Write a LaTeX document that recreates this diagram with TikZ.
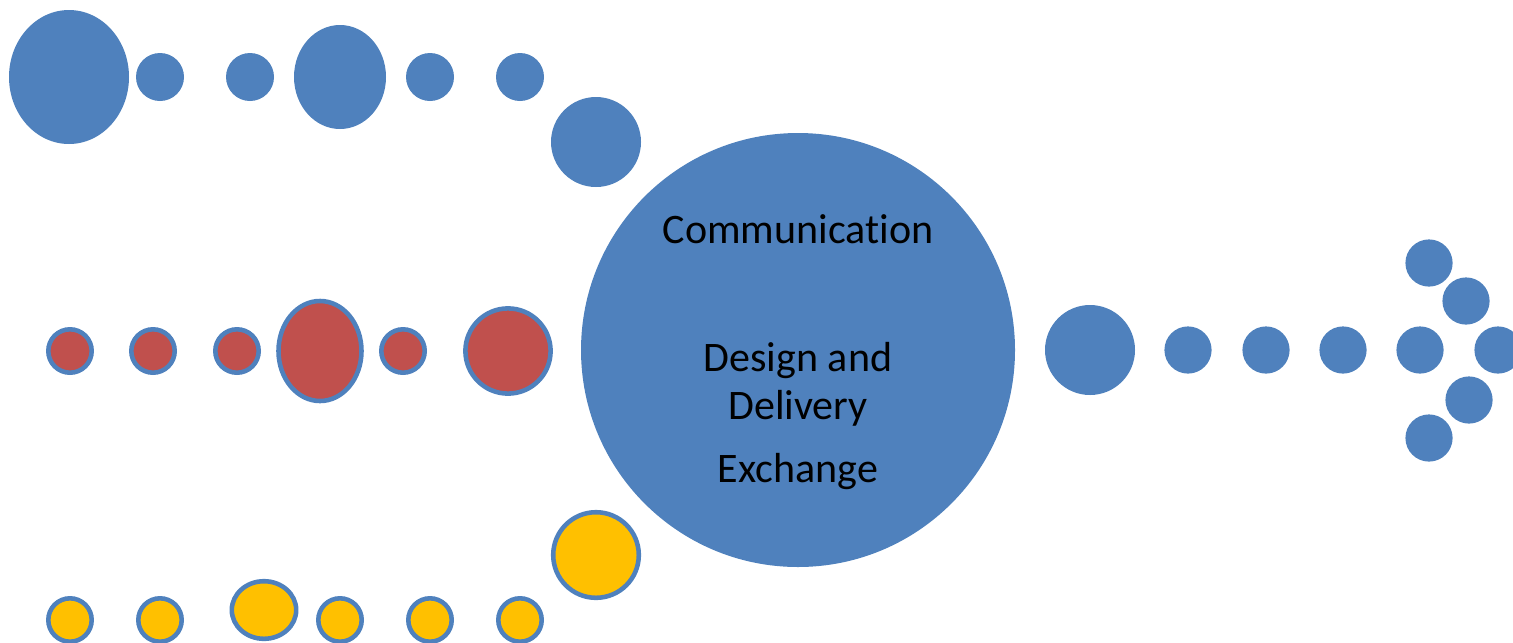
\documentclass[tikz,border=0pt]{standalone}
\usepackage{fontspec}
\setmainfont{Carlito}[Ligatures={NoCommon}]
\usepackage{tikz}
\definecolor{dotblue}{HTML}{4F81BD}
\definecolor{dotred}{HTML}{C0504D}
\definecolor{dotyellow}{HTML}{FFC000}
\tikzset{
	bluedot/.style={fill=dotblue, draw=none},
	reddot/.style={fill=dotred, draw=dotblue, line width=1.3pt},
	yellowdot/.style={fill=dotyellow, draw=dotblue, line width=1.3pt},
	label text/.style={font=\fontsize{11.95}{14}\selectfont, anchor=base, inner sep=0pt}
}

\begin{document}
\begin{tikzpicture}[x=0.01cm, y=-0.01cm]
			%%%%% START %%%%%
			
			\useasboundingbox (0, 0) rectangle (1513, 642);
			
			% top row
			\fill[bluedot] (69, 77) ellipse (60 and 67);
			\fill[bluedot] (160, 77) circle (24);
			\fill[bluedot] (250, 77) circle (24);
			\fill[bluedot] (340, 77) ellipse (46 and 52);
			\fill[bluedot] (430, 77) circle (24);
			\fill[bluedot] (520, 77) circle (24);
			\fill[bluedot] (596, 142) circle (45);
			
			% centre
			\fill[bluedot] (798, 350) circle (217);
			\node[label text] (comm) at (798, 243) {Communication};
			\node[label text] (design) at (798, 371) {Design and};
			\node[label text] (delivery) at (798, 419) {Delivery};
			\node[label text] (exchange) at (798, 482) {Exchange};
			
			% red row
			\draw[reddot] (70, 351) circle (21.7);
			\draw[reddot] (153, 351) circle (21.7);
			\draw[reddot] (237, 351) circle (21.7);
			\draw[reddot] (320, 351) ellipse (41.5 and 50);
			\draw[reddot] (403, 351) circle (21.7);
			\draw[reddot] (508, 351) circle (42.6);
			
			% yellow row
			\draw[yellowdot] (70, 620) circle (21.7);
			\draw[yellowdot] (160, 620) circle (21.7);
			\draw[yellowdot] (264, 610) ellipse (32.2 and 28.8);
			\draw[yellowdot] (340, 620) circle (21.7);
			\draw[yellowdot] (430, 620) circle (21.7);
			\draw[yellowdot] (520, 620) circle (21.7);
			\draw[yellowdot] (596, 555) circle (42.8);
			
			% right arrow
			\fill[bluedot] (1090, 350) circle (45);
			\fill[bluedot] (1188, 350) circle (23.6);
			\fill[bluedot] (1266, 350) circle (23.6);
			\fill[bluedot] (1343, 350) circle (23.6);
			\fill[bluedot] (1420, 350) circle (23.6);
			\fill[bluedot] (1498, 350) circle (23.6);
			\fill[bluedot] (1429, 263) circle (23.6);
			\fill[bluedot] (1466, 301) circle (23.6);
			\fill[bluedot] (1469, 400) circle (23.6);
			\fill[bluedot] (1429, 438) circle (23.6);
			
			%%%%% END %%%%%
\end{tikzpicture}
\end{document}
